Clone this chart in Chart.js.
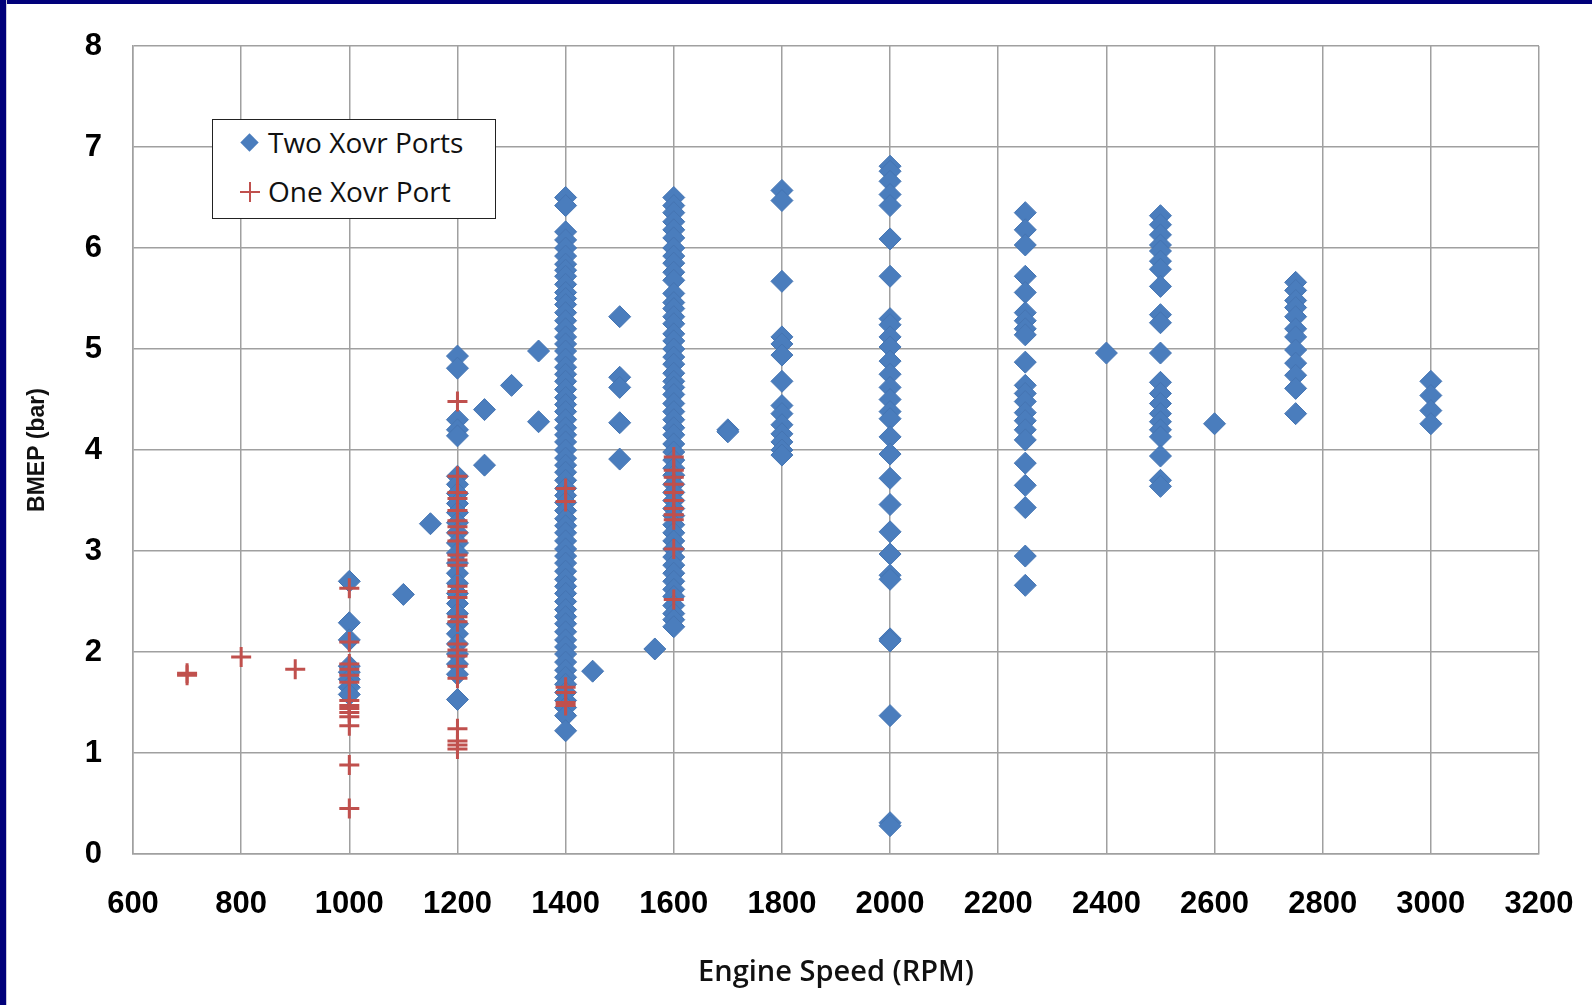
<!DOCTYPE html>
<html>
<head>
<meta charset="utf-8">
<script src="https://cdn.jsdelivr.net/npm/chart.js@4.4.1/dist/chart.umd.min.js"></script>
<style>
  html, body { margin:0; padding:0; background:#ffffff; }
  #wrap { position:absolute; left:0; top:0; width:1592px; height:1005px; overflow:hidden; background:#fff; }
  #c { position:absolute; left:0; top:0; }
  #frameTop { position:absolute; left:0; top:0; width:1592px; height:4px; background:#00007a; }
  #frameLeft { position:absolute; left:0; top:0; width:6px; height:1005px; background:#00007a; }
  #frameLeftLine { position:absolute; left:6px; top:0; width:1px; height:1005px; background:#c9c9dc; }
  #legend { position:absolute; left:212px; top:119px; width:282px; height:98px; border:1px solid #222; background:#fff;
            font-family:"Open Sans", sans-serif; font-size:28px; color:#111; }
  .item { position:absolute; left:0; height:40px; line-height:40px; white-space:nowrap; }
  .item span.txt { position:absolute; left:55px; top:0; }
  .diamond { position:absolute; left:30px; top:14px; width:13px; height:13px; background:#4a7dbd; transform:rotate(45deg); }
  .cross-h { position:absolute; left:27px; top:20px; width:20px; height:2px; background:#c0504d; }
  .cross-v { position:absolute; left:36px; top:11px; width:2px; height:20px; background:#c0504d; }
</style>
</head>
<body>
<div id="wrap">
  <canvas id="c" width="1592" height="1005"></canvas>
  <div id="frameTop"></div>
  <div id="frameLeft"></div>
  <div id="frameLeftLine"></div>
  <div id="legend">
    <div class="item" style="top:2px;"><div class="diamond"></div><span class="txt">Two Xovr Ports</span></div>
    <div class="item" style="top:51px;"><div class="cross-h"></div><div class="cross-v"></div><span class="txt">One Xovr Port</span></div>
  </div>
</div>
<script>
// ---- Data ----
const xTicks = [600, 800, 1000, 1200, 1400, 1600, 1800, 2000, 2200, 2400, 2600, 2800, 3000, 3200];
const yTicks = [0, 1, 2, 3, 4, 5, 6, 7, 8];

const seriesNames = ["Two Xovr Ports", "One Xovr Port"];

// Two Xovr Ports: engine speeds and BMEP values measured at each speed
const twoPortSpeeds = [1000, 1100, 1150, 1200, 1250, 1300, 1350, 1400, 1450, 1500, 1565, 1600, 1700, 1800, 2000, 2250, 2400, 2500, 2600, 2750, 3000];
const twoPortBmep = [
  [2.70, 2.29, 2.12, 1.86, 1.80, 1.73, 1.65, 1.58],
  [2.57],
  [3.27],
  [4.93, 4.81, 4.30, 4.20, 4.14, 3.74, 3.66, 3.57, 3.47, 3.38, 3.28, 3.18, 3.08, 2.98, 2.88, 2.78, 2.68, 2.58, 2.48, 2.38, 2.28, 2.18, 2.08, 1.98, 1.88, 1.78, 1.53],
  [4.40, 3.85],
  [4.64],
  [4.98, 4.28],
  [6.50, 6.42, 6.16, 6.08, 6.00, 5.92, 5.84, 5.78, 5.72, 5.64, 5.56, 5.50, 5.44, 5.36, 5.28, 5.20, 5.12, 5.05, 4.98, 4.90, 4.82, 4.75, 4.68, 4.60, 4.52, 4.45, 4.38, 4.30, 4.22, 4.15, 4.08, 4.00, 3.92, 3.85, 3.78, 3.70, 3.62, 3.55, 3.48, 3.40, 3.32, 3.25, 3.18, 3.10, 3.02, 2.95, 2.88, 2.80, 2.72, 2.65, 2.58, 2.50, 2.42, 2.35, 2.28, 2.20, 2.12, 2.05, 1.98, 1.90, 1.82, 1.75, 1.68, 1.60, 1.52, 1.45, 1.37, 1.22],
  [1.81],
  [5.32, 4.72, 4.62, 4.27, 3.91],
  [2.03],
  [6.50, 6.42, 6.35, 6.26, 6.18, 6.10, 6.00, 5.92, 5.85, 5.76, 5.68, 5.55, 5.46, 5.40, 5.32, 5.25, 5.15, 5.08, 5.00, 4.92, 4.85, 4.76, 4.68, 4.62, 4.55, 4.46, 4.38, 4.30, 4.22, 4.15, 4.06, 3.98, 3.90, 3.82, 3.75, 3.66, 3.58, 3.50, 3.42, 3.35, 3.26, 3.18, 3.10, 3.02, 2.94, 2.86, 2.78, 2.70, 2.62, 2.55, 2.46, 2.38, 2.32, 2.25],
  [4.20, 4.18],
  [6.57, 6.47, 5.67, 5.12, 5.05, 4.94, 4.68, 4.44, 4.36, 4.25, 4.16, 4.08, 4.00, 3.95],
  [6.81, 6.76, 6.66, 6.53, 6.42, 6.09, 5.72, 5.30, 5.24, 5.12, 5.02, 4.88, 4.75, 4.62, 4.50, 4.38, 4.31, 4.13, 3.96, 3.72, 3.46, 3.19, 2.97, 2.76, 2.72, 2.13, 2.11, 1.37, 0.31, 0.28],
  [6.35, 6.18, 6.03, 5.72, 5.56, 5.36, 5.28, 5.20, 5.14, 4.87, 4.64, 4.56, 4.48, 4.37, 4.29, 4.20, 4.10, 3.87, 3.65, 3.43, 2.95, 2.66],
  [4.96],
  [6.32, 6.23, 6.13, 6.03, 5.97, 5.87, 5.79, 5.62, 5.34, 5.26, 4.96, 4.67, 4.56, 4.46, 4.36, 4.28, 4.20, 4.13, 3.94, 3.70, 3.64],
  [4.26],
  [5.66, 5.58, 5.48, 5.41, 5.32, 5.20, 5.12, 4.99, 4.86, 4.74, 4.61, 4.36],
  [4.68, 4.54, 4.39, 4.26]
];

// One Xovr Port
const onePortSpeeds = [700, 800, 900, 1000, 1200, 1400, 1600];
const onePortBmep = [
  [1.79, 1.77],
  [1.95],
  [1.83],
  [2.63, 2.10, 1.88, 1.83, 1.77, 1.70, 1.52, 1.47, 1.44, 1.40, 1.36, 1.27, 0.88, 0.45],
  [4.48, 3.74, 3.58, 3.52, 3.40, 3.30, 3.24, 3.18, 3.10, 2.96, 2.91, 2.86, 2.65, 2.60, 2.54, 2.35, 2.30, 2.08, 2.02, 1.96, 1.86, 1.74, 1.24, 1.12, 1.08, 1.04],
  [3.62, 3.49, 1.65, 1.60, 1.50, 1.47],
  [3.93, 3.80, 3.73, 3.66, 3.58, 3.50, 3.42, 3.36, 3.31, 3.02, 2.52]
];

function toPoints(speeds, values) {
  const pts = [];
  speeds.forEach((s, i) => values[i].forEach(v => pts.push({ x: s, y: v })));
  return pts;
}

const CHART_LEFT = 133, CHART_TOP = 46, CHART_RIGHT = 1539, CHART_BOTTOM = 854;
const W = 1592, H = 1005;

const tickFont = { family: "'Liberation Sans', Arial, sans-serif", size: 31, weight: 'bold' };

new Chart(document.getElementById('c'), {
  type: 'scatter',
  data: {
    datasets: [
      {
        label: seriesNames[0],
        data: toPoints(twoPortSpeeds, twoPortBmep),
        pointStyle: 'rectRot',
        pointRadius: 11,
        pointHoverRadius: 11,
        backgroundColor: '#4a7dbd',
        borderColor: '#4575b3',
        borderWidth: 1,
        order: 1
      },
      {
        label: seriesNames[1],
        data: toPoints(onePortSpeeds, onePortBmep),
        pointStyle: 'cross',
        pointRadius: 10,
        pointHoverRadius: 10,
        backgroundColor: '#c0504d',
        borderColor: '#c0504d',
        borderWidth: 3,
        order: 0
      }
    ]
  },
  options: {
    responsive: false,
    animation: false,
    devicePixelRatio: 1,
    layout: { padding: { left: 0, top: CHART_TOP, right: W - CHART_RIGHT, bottom: 0 } },
    plugins: { legend: { display: false }, tooltip: { enabled: false } },
    scales: {
      x: {
        type: 'linear',
        min: xTicks[0],
        max: xTicks[xTicks.length - 1],
        afterBuildTicks: (s) => { s.ticks = xTicks.map(v => ({ value: v })); },
        afterFit: (s) => { s.height = H - CHART_BOTTOM; s.paddingLeft = 0; s.paddingRight = 0; },
        ticks: { font: tickFont, color: '#000', padding: 32, maxRotation: 0, autoSkip: false,
                 callback: (v) => String(v) },
        grid: { color: '#a0a0a0', lineWidth: 1.5, drawTicks: false },
        border: { color: '#a0a0a0', width: 1.5 },
        title: {
          display: true,
          text: 'Engine Speed (RPM)',
          color: '#111',
          font: { family: "'Open Sans', sans-serif", size: 29, weight: '600' },
          padding: { top: 0, bottom: 15 }
        }
      },
      y: {
        type: 'linear',
        min: yTicks[0],
        max: yTicks[yTicks.length - 1],
        afterBuildTicks: (s) => { s.ticks = yTicks.map(v => ({ value: v })); },
        afterFit: (s) => { s.width = CHART_LEFT; s.paddingTop = 0; s.paddingBottom = 0; },
        ticks: { font: tickFont, color: '#000', padding: 31, callback: (v) => String(v) },
        grid: { color: '#a0a0a0', lineWidth: 1.5, drawTicks: false },
        border: { color: '#a0a0a0', width: 1.5 },
        title: {
          display: true,
          text: 'BMEP (bar)',
          color: '#111',
          font: { family: "'Liberation Sans', Arial, sans-serif", size: 23, weight: 'bold' },
          padding: { top: 24, bottom: 0 }
        }
      }
    }
  }
});
</script>
</body>
</html>
